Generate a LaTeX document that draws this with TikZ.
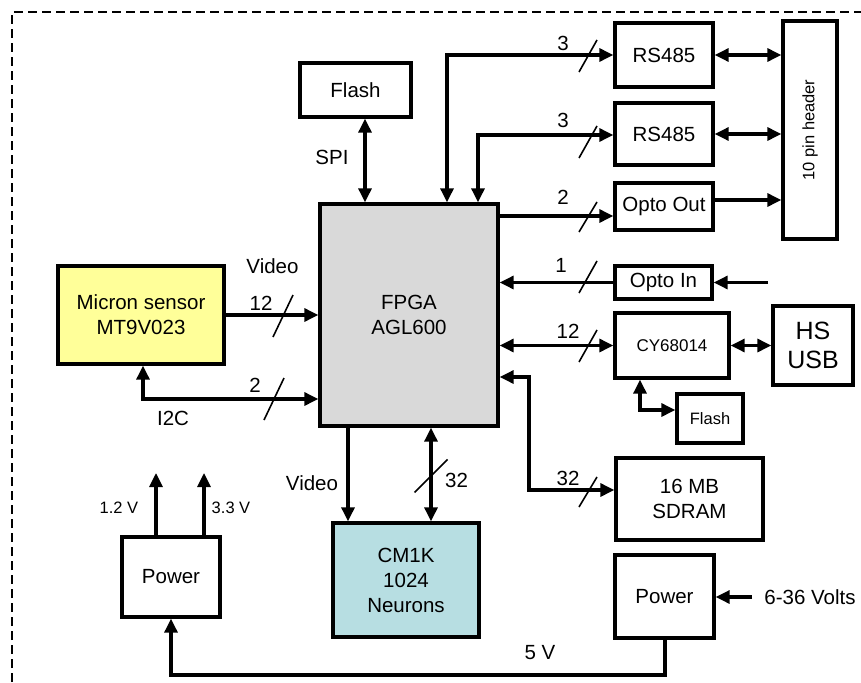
\documentclass[tikz,border=0pt]{standalone}
\usepackage{fontspec}
\setmainfont{Liberation Sans}
\usetikzlibrary{arrows.meta}
\definecolor{fpgagray}{HTML}{D9D9D9}
\definecolor{sensoryellow}{HTML}{FFFF99}
\definecolor{cmblue}{HTML}{B7DEE2}
\begin{document}
\begin{tikzpicture}[x=1pt,y=-1pt,
 every node/.style={font=\fontsize{20.5}{25}\selectfont, inner sep=0pt, align=center},
 box/.style={draw, line width=3.3pt, fill=white},
 conn/.style={line width=3.1pt, -{Triangle[length=14pt,width=13pt]}},
 bi/.style={line width=3.1pt, {Triangle[length=14pt,width=13pt]}-{Triangle[length=14pt,width=13pt]}},
 slash/.style={line width=1.6pt},
 small/.style={font=\fontsize{16.5}{20}\selectfont}]
\useasboundingbox (0,0) rectangle (861,682);
% dashed frame
\draw[dashed, line width=1.3pt, dash pattern=on 9pt off 5pt] (12,682) -- (12,12) -- (861,12);

% boxes
\node[box, minimum width=111pt, minimum height=54pt] (flashT) at (355.5,90) {Flash};
\node[box, fill=fpgagray, minimum width=178pt, minimum height=222pt] (fpga) at (409,315) {FPGA\\AGL600};
\node[box, fill=sensoryellow, minimum width=166pt, minimum height=98pt] (sensor) at (141,315) {Micron sensor\\MT9V023};
\node[box, minimum width=98pt, minimum height=64pt] (rsA) at (664,55) {RS485};
\node[box, minimum width=98pt, minimum height=62pt] (rsB) at (664,134) {RS485};
\node[box, minimum width=98pt, minimum height=47pt] (optoOut) at (664,206.5) {Opto Out};
\node[box, minimum width=54pt, minimum height=218pt] (header) at (810,130) {};
\node[rotate=90, small] (headerText) at (header.center) {10 pin header};
\node[box, minimum width=97pt, minimum height=33pt] (optoIn) at (663.5,282.5) {Opto In};
\node[box, minimum width=114pt, minimum height=65pt, font=\fontsize{17}{20}\selectfont] (cy) at (672,345.5) {CY68014};
\node[box, minimum width=80pt, minimum height=79pt, font=\fontsize{25}{29}\selectfont] (hsusb) at (813,345.5) {HS\\USB};
\node[box, minimum width=66pt, minimum height=49pt, font=\fontsize{16.5}{20}\selectfont] (flashS) at (710,418.5) {Flash};
\node[box, minimum width=147pt, minimum height=82pt] (sdram) at (689.5,499) {16 MB\\SDRAM};
\node[box, minimum width=99pt, minimum height=83pt] (powR) at (664.5,596.5) {Power};
\node[box, fill=cmblue, minimum width=146pt, minimum height=114pt] (cm1k) at (406,580) {CM1K\\1024\\Neurons};
\node[box, minimum width=98pt, minimum height=80pt] (powL) at (171,577) {Power};

% helper coordinates
\coordinate (spi) at (365,150);
\coordinate (ra) at (447,55);
\coordinate (rb) at (478,135);
\coordinate (oo) at (560,216);
\coordinate (oh) at (750,200);
\coordinate (oin) at (768,282.5);
\coordinate (cf) at (640,410);
\coordinate (sd1) at (529,377);
\coordinate (sd2) at (529,490);
\coordinate (i2c) at (143,399);
\coordinate (vd) at (348,470);
\coordinate (bd) at (431,470);
\coordinate (v12) at (156,473);
\coordinate (v33) at (204,473);
\coordinate (fv) at (665,675);
\coordinate (vin) at (752,597);

% connectors
\draw[bi] (spi |- flashT.south) -- (spi |- fpga.north);
\draw[bi] (ra |- fpga.north) -- (ra) -- (rsA.west);
\draw[bi] (rb |- fpga.north) -- (rb) -- (rb -| rsB.west);
\draw[conn] (oo -| fpga.east) -- (oo -| optoOut.west);
\draw[bi] (rsA.east) -- (rsA.east -| header.west);
\draw[bi] (rsB.east) -- (rsB.east -| header.west);
\draw[conn] (oh -| optoOut.east) -- (oh -| header.west);
\draw[conn] (optoIn.west) -- (optoIn.west -| fpga.east);
\draw[conn] (oin) -- (optoIn.east);
\draw[bi] (cy.west -| fpga.east) -- (cy.west);
\draw[bi] (cy.east) -- (hsusb.west);
\draw[bi] (cf |- cy.south) -- (cf) -- (cf -| flashS.west);
\draw[bi] (sd1 -| fpga.east) -- (sd1) -- (sd2) -- (sd2 -| sdram.west);
\draw[conn] (sensor.east) -- (sensor.east -| fpga.west);
\draw[bi] (i2c |- sensor.south) -- (i2c) -- (i2c -| fpga.west);
\draw[conn] (vd |- fpga.south) -- (vd |- cm1k.north);
\draw[bi] (bd |- fpga.south) -- (bd |- cm1k.north);
\draw[conn] (v12 |- powL.north) -- (v12);
\draw[conn] (v33 |- powL.north) -- (v33);
\draw[conn] (fv |- powR.south) -- (fv) -- (fv -| powL.south) -- (powL.south);
\draw[conn] (vin) -- (vin -| powR.east);

% bus slashes
\draw[slash] (588,56) ++(-9,16) -- ++(18,-32);
\draw[slash] (588,142) ++(-9,16) -- ++(18,-32);
\draw[slash] (588,217) ++(-9,15) -- ++(18,-30);
\draw[slash] (588,277) ++(-9,16) -- ++(18,-32);
\draw[slash] (588,346) ++(-9,16) -- ++(18,-32);
\draw[slash] (588,492) ++(-9,15) -- ++(18,-30);
\draw[slash] (283,316) ++(-10,21) -- ++(20,-42);
\draw[slash] (274,399) ++(-10,21) -- ++(20,-42);
\draw[slash] (431,476) ++(-16.5,16.5) -- ++(33,-33);

% labels
\node (lSPI) at (332,157) {SPI};
\node (lVid1) at (272.5,266) {Video};
\node (l12a) at (261,303) {12};
\node (l2a) at (255,385) {2};
\node (lI2C) at (173,418) {I2C};
\node (lVid2) at (312,483) {Video};
\node (l32a) at (456.5,480) {32};
\node[small] (l12v) at (119,508) {1.2 V};
\node[small] (l33v) at (231,508) {3.3 V};
\node (l5v) at (540,653) {5 V};
\node (lVin) at (810,597) {6-36 Volts};
\node (l3a) at (563,43) {3};
\node (l3b) at (563,120) {3};
\node (l2b) at (563,197) {2};
\node (l1) at (561,265) {1};
\node (l12b) at (568,331) {12};
\node (l32b) at (568,478) {32};
\end{tikzpicture}
\end{document}
